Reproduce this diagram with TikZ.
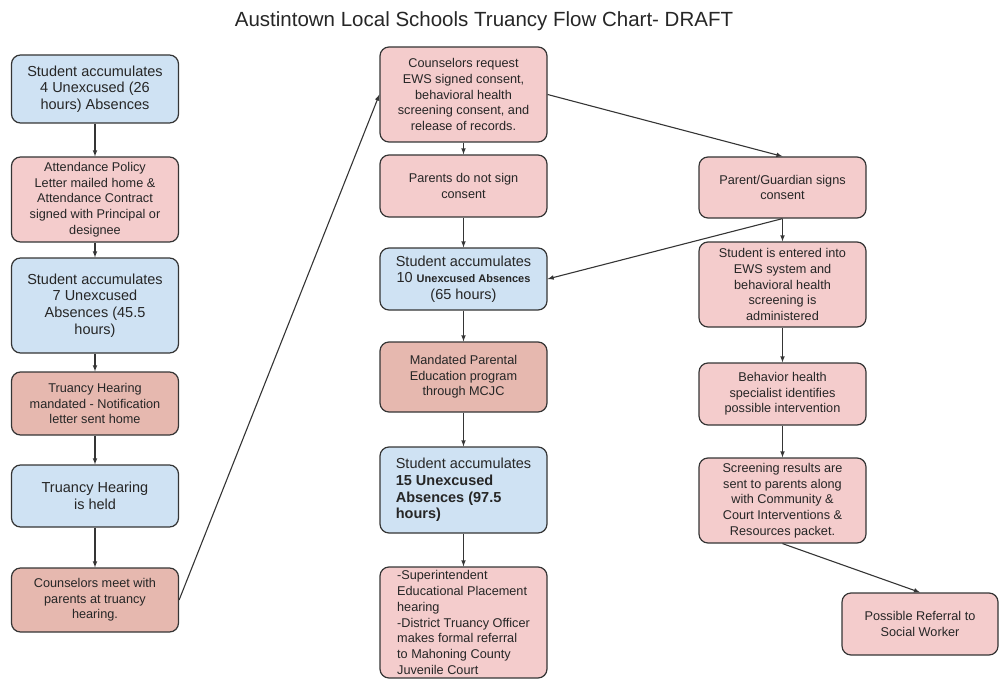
\documentclass[tikz,border=0pt]{standalone}
\usepackage{fontspec}
\setmainfont{Liberation Sans}
\usetikzlibrary{arrows,positioning,shapes}

\definecolor{bluefill}{HTML}{CFE2F3}
\definecolor{pinkfill}{HTML}{F4CCCC}
\definecolor{redfill}{HTML}{E6B8AF}
\definecolor{edgegray}{HTML}{353535}

\newcommand{\bigtext}{\fontsize{14.5}{16.7}\selectfont}
\newcommand{\smalltext}{\fontsize{12.7}{15.7}\selectfont}

\tikzset{
  box/.style={draw=edgegray,line width=1.2pt,rounded corners=9pt,align=center,
    text=black!85,inner sep=1pt,minimum width=167pt},
  bluebox/.style={box,fill=bluefill,font=\bigtext},
  pinkbox/.style={box,fill=pinkfill,font=\smalltext},
  redbox/.style={box,fill=redfill,font=\smalltext},
  flow/.style={draw=edgegray,line width=1.1pt,-latex}
}

\begin{document}
\begin{tikzpicture}[x=1pt,y=-1pt]
  \useasboundingbox (0,0) rectangle (1000,679);
  % Title
  \path (484,21) node[text=black!85,font=\fontsize{20.5}{24}\selectfont] (title) {Austintown Local Schools Truancy Flow Chart- DRAFT};
  % Left column
  \path (95,89) node[bluebox,minimum height=68pt] (L1) {Student accumulates\\4 Unexcused (26\\hours) Absences};
  \path (95,199.5) node[pinkbox,minimum height=85pt] (L2) {Attendance Policy\\Letter mailed home \&\\Attendance Contract\\signed with Principal or\\designee};
  \path (95,305.5) node[bluebox,minimum height=95pt] (L3) {Student accumulates\\7 Unexcused\\Absences (45.5\\hours)};
  \path (95,403.5) node[redbox,minimum height=63pt] (L4) {Truancy Hearing\\mandated - Notification\\letter sent home};
  \path (95,496) node[bluebox,minimum height=62pt] (L5) {Truancy Hearing\\is held};
  \path (95,600) node[redbox,minimum height=64pt] (L6) {Counselors meet with\\parents at truancy\\hearing.};
  % Middle column
  \path (463.5,94.5) node[pinkbox,minimum height=95pt] (M1) {Counselors request\\EWS signed consent,\\behavioral health\\screening consent, and\\release of records.};
  \path (463.5,186) node[pinkbox,minimum height=62pt] (M2) {Parents do not sign\\consent};
  \path (463.5,279) node[bluebox,minimum height=62pt] (M3) {Student accumulates\\10 {\bfseries\fontsize{11}{16.7}\selectfont Unexcused Absences}\\(65 hours)};
  \path (463.5,377) node[redbox,minimum height=70pt] (M4) {Mandated Parental\\Education program\\through MCJC};
  \path (463.5,490) node[bluebox,minimum height=86pt,align=left] (M5) {Student accumulates\\\textbf{15 Unexcused}\\\textbf{Absences (97.5}\\\textbf{hours)}};
  \path (463.5,622.5) node[pinkbox,minimum height=111pt,align=left] (M6) {-Superintendent\\Educational Placement\\hearing\\-District Truancy Officer\\makes formal referral\\to Mahoning County\\Juvenile Court};
  % Right column
  \path (782.5,187.5) node[pinkbox,minimum height=61pt] (R1) {Parent/Guardian signs\\consent};
  \path (782.5,284.5) node[pinkbox,minimum height=85pt] (R2) {Student is entered into\\EWS system and\\behavioral health\\screening is\\administered};
  \path (782.5,394) node[pinkbox,minimum height=62pt] (R3) {Behavior health\\specialist identifies\\possible intervention};
  \path (782.5,500.5) node[pinkbox,minimum height=85pt] (R4) {Screening results are\\sent to parents along\\with Community \&\\Court Interventions \&\\Resources packet.};
  \path (920,624) node[pinkbox,minimum width=156pt,minimum height=62pt] (R5) {Possible Referral to\\Social Worker};
  % Connectors
  \draw[flow] (L1) -- (L2); \draw[flow] (L2) -- (L3); \draw[flow] (L3) -- (L4);
  \draw[flow] (L4) -- (L5); \draw[flow] (L5) -- (L6);
  \draw[flow] (L6.east) -- (M1.west);
  \draw[flow] (M1) -- (M2); \draw[flow] (M2) -- (M3); \draw[flow] (M3) -- (M4);
  \draw[flow] (M4) -- (M5); \draw[flow] (M5) -- (M6);
  \draw[flow] (M1.east) -- (R1.north);
  \draw[flow] (R1.south) -- (M3.east);
  \draw[flow] (R1) -- (R2); \draw[flow] (R2) -- (R3); \draw[flow] (R3) -- (R4);
  \draw[flow] (R4.south) -- (R5.north);
\end{tikzpicture}
\end{document}
